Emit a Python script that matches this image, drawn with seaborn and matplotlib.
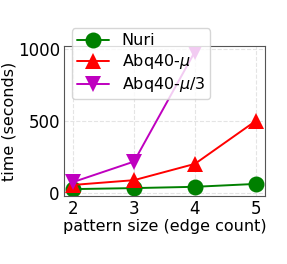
import numpy as np
import pandas as pd
import matplotlib
matplotlib.use("Agg")
import matplotlib.pyplot as plt
import seaborn as sns

# --- Data ---
sizes = [2, 3, 4, 5]
nuri = [26, 33, 42, 62]
abq_mu = [55, 88, 201, 499]
abq_mu3 = [75, 217, 979]

series_names = ["Nuri", r"Abq40-$\mu$", r"Abq40-$\mu$/3"]
colors = ["#008000", "#ff0000", "#bf00bf"]
markers = ["o", "^", "v"]

rows = []
for name, vals in zip(series_names, [nuri, abq_mu, abq_mu3]):
    for s, v in zip(sizes, vals):
        rows.append({"size": s, "time": v, "method": name})
df = pd.DataFrame(rows)

# --- Plot ---
sns.set_style("whitegrid", {"grid.linestyle": "--", "grid.color": "#e4e4e4",
                            "axes.edgecolor": "#555555", "text.color": "black",
                            "axes.labelcolor": "black", "xtick.color": "black",
                            "ytick.color": "black"})
plt.rcParams["font.family"] = ["DejaVu Sans"]
plt.rcParams["mathtext.fontset"] = "dejavusans"

fig, ax = plt.subplots(figsize=(2.87, 2.64), dpi=100)
fig.subplots_adjust(left=0.223, right=0.923, bottom=0.258, top=0.826)

sns.lineplot(data=df, x="size", y="time", hue="method", style="method",
             palette=dict(zip(series_names, colors)),
             markers=dict(zip(series_names, markers)),
             dashes=False, markersize=11.5, markeredgewidth=0, linewidth=1.4,
             ax=ax)

ax.set_xticks(sizes)
ax.set_yticks([0, 500, 1000])
ax.set_ylim(-21, 1019)
ax.set_xlabel("pattern size (edge count)", fontsize=11.5, labelpad=1)
ax.set_ylabel("time (seconds)", fontsize=11.5, labelpad=1)
ax.tick_params(labelsize=12, pad=1, length=2)
for sp in ax.spines.values():
    sp.set_linewidth(0.8)

ax.legend(loc="upper left", bbox_to_anchor=(0.0, 1.17), fontsize=11.5,
          framealpha=0.8, borderpad=0.3, labelspacing=0.25,
          handlelength=2.0, handletextpad=0.8)

fig.savefig("out.png", dpi=100)
